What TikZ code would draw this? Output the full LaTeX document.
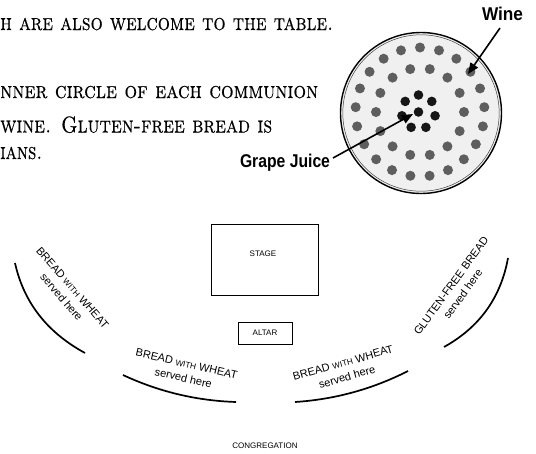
\documentclass[tikz,border=0pt]{standalone}
\usepackage{fontspec}
\usepackage{graphicx}
\setsansfont{Liberation Sans}
\newfontfamily\capsfont[LetterSpace=0,FakeBold=0.4]{lmromancaps10-regular.otf}
\usetikzlibrary{arrows.meta}
\definecolor{dotgray}{HTML}{5E5E5E}
\definecolor{platefill}{HTML}{F0F0F0}
\definecolor{dotblack}{HTML}{161616}
\tikzset{
  topline/.style={anchor=base west, inner sep=0pt, font=\capsfont\fontsize{23}{23}\selectfont},
  biglab/.style={inner sep=0pt, font=\sffamily\bfseries\fontsize{18.5}{18.5}\selectfont},
  pointer/.style={line width=1.6pt, -{Triangle[length=11pt,width=9pt]}},
  planbox/.style={draw, line width=1pt, inner sep=0pt},
  smalllab/.style={inner sep=0pt, font=\sffamily\fontsize{8}{8}\selectfont},
  arclab/.style={inner sep=0pt, align=center, font=\sffamily\fontsize{11}{14.5}\selectfont},
  servarc/.style={line width=1.7pt}
}
\newcommand{\wth}{{\fontsize{8.2}{8}\selectfont WITH}}
\begin{document}
\begin{tikzpicture}[x=1pt,y=-1pt]
\useasboundingbox (0,0) rectangle (536,453);
% top text
\node[topline] (t1) at (0,30) {\resizebox{333pt}{\height}{h are also welcome to the table.}};
\node[topline] (t2) at (0,98) {\resizebox{318pt}{\height}{nner circle of each communion}};
\node[topline] (t3) at (0,132.5) {\resizebox{272pt}{\height}{wine. Gluten-free bread is}};
\node[topline] (t4) at (0,159) {\resizebox{42pt}{\height}{ians.}};
% communion plate
\fill[platefill] (421,113) circle (80.5pt);
\draw[line width=1.4pt] (421,113) circle (80.5pt);
\draw[line width=0.5pt, black!75] (421,113) circle (78.2pt);
\foreach \i in {0,...,20} \fill[dotgray, shift={(420,112)}] ({-90+\i*360/21}:64.5) circle (5pt);
\foreach \i in {0,...,13} \fill[dotgray, shift={(420,112)}] ({-90+180/14+\i*360/14}:44) circle (5pt);
\foreach \i in {0,...,6} \fill[dotblack, shift={(418.5,112)}] ({-90+\i*360/7}:17) circle (4.8pt);
\fill[dotblack] (418.5,112) circle (4.8pt);
% labels and arrows
\node[biglab] (wine) at (502.5,14) {\resizebox{41pt}{\height}{Wine}};
\node[biglab] (gj) at (285,163) {\resizebox{90pt}{\height}{Grape Juice}};
\coordinate (winetail) at (500,28);
\coordinate (winetip) at (468,74);
\coordinate (gjtail) at (333,158);
\coordinate (gjtip) at (413,114);
\draw[pointer] (winetail) -- (winetip);
\draw[pointer] (gjtail) -- (gjtip);
% plan
\node[planbox, minimum width=107pt, minimum height=71pt] (stage) at (264.5,259.5) {};
\node[smalllab] (stagelab) at (263,254) {STAGE};
\node[planbox, minimum width=54pt, minimum height=22pt, smalllab, draw, line width=1pt] (altar) at (265,333) {ALTAR};
\node[smalllab] (cong) at (265,446) {CONGREGATION};
% serving arcs
\draw[servarc] (15,263) .. controls (23.7,302.3) and (47,332.3) .. (85,353);
\draw[servarc] (123,375) .. controls (158.8,391.7) and (196.5,400.7) .. (236,402);
\draw[servarc] (295,402) .. controls (334.8,399.4) and (372.5,389.1) .. (408,371);
\draw[servarc] (444,347) .. controls (479.5,327.3) and (500.8,297.7) .. (508,258);
\node[arclab, rotate=-49] (lab1) at (67,292.5) {BREAD \wth{} WHEAT\\served here};
\node[arclab, rotate=-13] (lab2) at (185,371) {BREAD \wth{} WHEAT\\served here};
\node[arclab, rotate=16] (lab3) at (345,370) {BREAD \wth{} WHEAT\\served here};
\node[arclab, rotate=54] (lab4) at (457,290) {GLUTEN-FREE BREAD\\served here};
\end{tikzpicture}
\end{document}
